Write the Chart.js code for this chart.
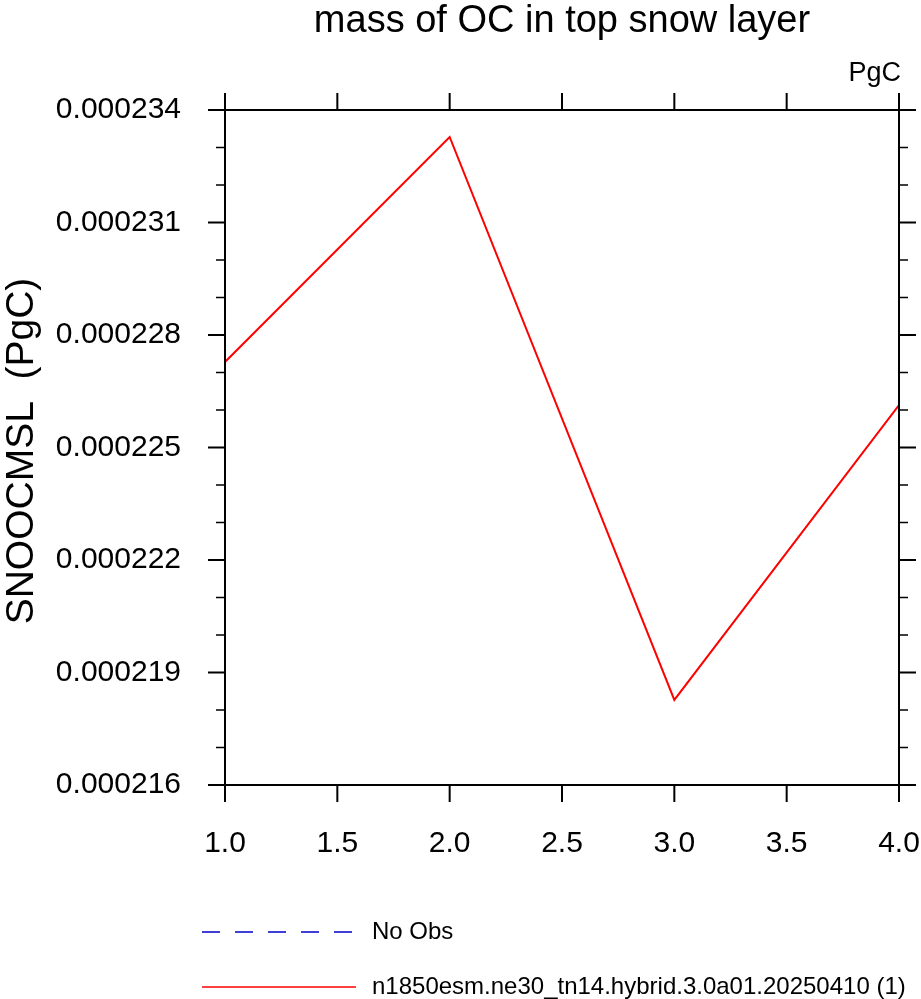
<!DOCTYPE html>
<html>
<head>
<meta charset="utf-8">
<script src="https://cdn.jsdelivr.net/npm/chart.js@4/dist/chart.umd.min.js"></script>
<style>
    html, body {margin: 0; padding: 0; background: #fff;}
    #wrap {width: 921px; height: 999px;}
</style>
</head>
<body>
<div id="wrap"><canvas id="chart" width="921" height="999"></canvas></div>
<script>
const years = [1, 2, 3, 4]
const modelValues = [0.00022728, 0.00023328, 0.00021827, 0.00022613]
const obsValues = []
const xTicks = [1.0, 1.5, 2.0, 2.5, 3.0, 3.5, 4.0]
const yTicks = [0.000216, 0.000219, 0.000222, 0.000225, 0.000228, 0.000231, 0.000234]
const yMinorTicks = [
    0.000217, 0.000218, 0.000220, 0.000221, 0.000223, 0.000224,
    0.000226, 0.000227, 0.000229, 0.000230, 0.000232, 0.000233,
]

const titleText = 'mass of OC in top snow layer'
const unitsText = 'PgC'
const yTitleText = 'SNOOCMSL  (PgC)'
const modelLabel = 'n1850esm.ne30_tn14.hybrid.3.0a01.20250410 (1)'
const obsLabel = 'No Obs'

const fontFamily = '"Liberation Sans", Arial, Helvetica, sans-serif'

const frameAndTicks = {
    id: 'frameAndTicks',
    afterDraw(chart) {
        const ctx = chart.ctx
        const area = chart.chartArea
        const xs = chart.scales.x
        const ys = chart.scales.y
        const major = 17
        const minor = 9
        ctx.save()
        ctx.strokeStyle = '#000'
        ctx.lineWidth = 2
        ctx.strokeRect(area.left, area.top, area.right - area.left, area.bottom - area.top)
        ctx.beginPath()
        xTicks.forEach(v => {
            const x = xs.getPixelForValue(v)
            ctx.moveTo(x, area.bottom)
            ctx.lineTo(x, area.bottom + major)
            ctx.moveTo(x, area.top)
            ctx.lineTo(x, area.top - major)
        })
        yTicks.forEach(v => {
            const y = ys.getPixelForValue(v)
            ctx.moveTo(area.left, y)
            ctx.lineTo(area.left - major, y)
            ctx.moveTo(area.right, y)
            ctx.lineTo(area.right + major, y)
        })
        ctx.stroke()
        ctx.beginPath()
        ctx.lineWidth = 1.5
        yMinorTicks.forEach(v => {
            const y = ys.getPixelForValue(v)
            ctx.moveTo(area.left, y)
            ctx.lineTo(area.left - minor, y)
            ctx.moveTo(area.right, y)
            ctx.lineTo(area.right + minor, y)
        })
        ctx.stroke()

        // title, units and y axis title
        ctx.fillStyle = '#000'
        ctx.textBaseline = 'alphabetic'
        ctx.textAlign = 'center'
        ctx.font = `38px ${fontFamily}`
        ctx.fillText(titleText, (area.left + area.right) / 2, 32)
        ctx.textAlign = 'right'
        ctx.font = `27px ${fontFamily}`
        ctx.fillText(unitsText, area.right + 2, 81)
        ctx.save()
        ctx.translate(33, 451)
        ctx.rotate(-Math.PI / 2)
        ctx.textAlign = 'center'
        ctx.font = `39px ${fontFamily}`
        ctx.fillText(yTitleText, 0, 0)
        ctx.restore()

        // legend
        const legendRows = [932, 987]
        chart.data.datasets.slice().reverse().forEach((ds, i) => {
            const y = legendRows[i]
            ctx.beginPath()
            ctx.strokeStyle = ds.borderColor
            ctx.lineWidth = 1.5
            ctx.setLineDash(ds.borderDash || [])
            ctx.moveTo(202, y)
            ctx.lineTo(356, y)
            ctx.stroke()
            ctx.setLineDash([])
            ctx.fillStyle = '#000'
            ctx.font = `24px ${fontFamily}`
            ctx.textAlign = 'left'
            ctx.textBaseline = 'middle'
            ctx.fillText(ds.label, 372, y)
        })
        ctx.restore()
    },
}

new Chart(document.getElementById('chart'), {
    type: 'line',
    plugins: [frameAndTicks],
    data: {
        datasets: [
            {
                label: modelLabel,
                data: years.map((x, i) => ({x, y: modelValues[i]})),
                borderColor: '#ff0000',
                borderWidth: 2,
                pointRadius: 0,
                tension: 0,
            },
            {
                label: obsLabel,
                data: obsValues,
                borderColor: '#0000c8',
                borderDash: [18, 15],
                borderWidth: 1.5,
                pointRadius: 0,
            },
        ],
    },
    options: {
        responsive: false,
        animation: false,
        layout: {padding: {top: 110, right: 22, left: 0, bottom: 0}},
        plugins: {
            legend: {display: false},
            tooltip: {enabled: false},
        },
        scales: {
            x: {
                type: 'linear',
                min: 1,
                max: 4,
                afterBuildTicks: scale => {
                    scale.ticks = xTicks.map(value => ({value}))
                },
                afterFit: scale => {
                    scale.height = 214
                    scale.paddingLeft = 0
                    scale.paddingRight = 0
                },
                grid: {display: false},
                border: {display: false},
                ticks: {
                    color: '#000',
                    font: {family: fontFamily, size: 30},
                    padding: 33,
                    maxRotation: 0,
                    callback: v => Number(v).toFixed(1),
                },
            },
            y: {
                type: 'linear',
                min: 0.000216,
                max: 0.000234,
                afterBuildTicks: scale => {
                    scale.ticks = yTicks.map(value => ({value}))
                },
                afterFit: scale => {
                    scale.width = 225
                    scale.paddingTop = 0
                    scale.paddingBottom = 0
                },
                grid: {display: false},
                border: {display: false},
                ticks: {
                    color: '#000',
                    font: {family: fontFamily, size: 30},
                    padding: 36,
                    callback: v => Number(v).toFixed(6),
                },
            },
        },
    },
})
</script>
</body>
</html>
